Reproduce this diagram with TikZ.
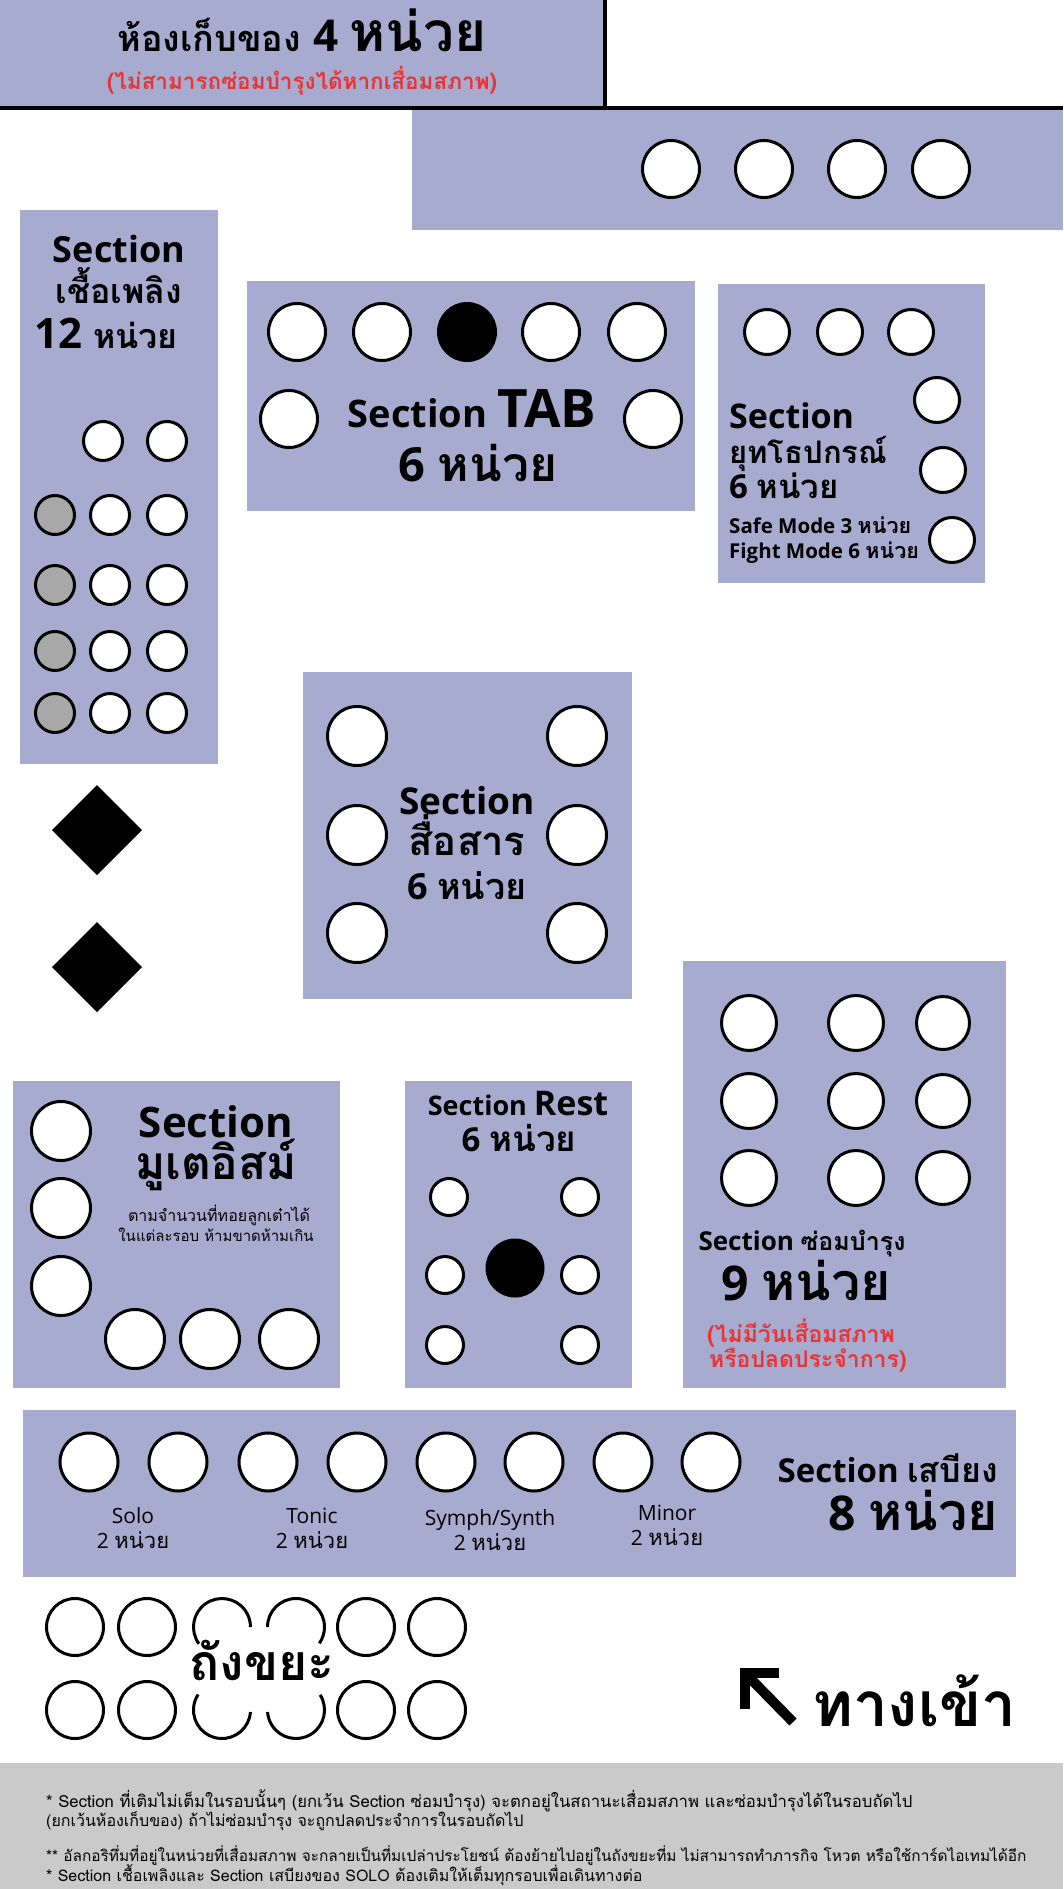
\documentclass[tikz,border=0pt]{standalone}
\usepackage{fontspec}
\setmainfont{Open Sans}
\newfontfamily\thai{Loma}[Script=Thai]
\usepackage{tikz}

\definecolor{zonefill}{RGB}{167,171,207}
\definecolor{deadgray}{RGB}{168,168,168}
\definecolor{notegray}{RGB}{202,202,202}
\definecolor{alertred}{RGB}{232,52,52}

\newcommand{\fsize}[1]{\fontsize{#1}{#1}\selectfont}
\newcommand{\latinb}[2]{{\bfseries\fsize{#1}#2}}
\newcommand{\thaib}[2]{{\thai\bfseries\fsize{#1}#2}}
\newcommand{\thair}[2]{{\thai\fsize{#1}#2}}

\begin{document}
\begin{tikzpicture}[x=1pt, y=-1pt,
                zone/.style={fill=zonefill},
                slot/.style={circle, draw, line width=3pt, fill=white, inner sep=0pt, minimum size=#1},
                dead/.style={fill=deadgray},
                locked/.style={fill=black},
                txt/.style={inner sep=0pt},
                binline/.style={line width=3pt}
            ]
                \useasboundingbox (0,0) rectangle (1063,1889);

                % Zones
                \fill[zone] (0,0) rectangle (605,108);
                \fill[zone] (412,108) rectangle (1063,230);
                \fill[zone] (20,210) rectangle (218,764);
                \fill[zone] (247,281) rectangle (695,511);
                \fill[zone] (718,284) rectangle (985,583);
                \fill[zone] (303,672) rectangle (632,999);
                \fill[zone] (13,1081) rectangle (340,1388);
                \fill[zone] (405,1081) rectangle (632,1388);
                \fill[zone] (683,961) rectangle (1006,1388);
                \fill[zone] (23,1410) rectangle (1016,1577);
                \fill[notegray] (0,1763) rectangle (1063,1889);

                \draw[line width=3.5pt] (0,108) -- (1063,108);
                \draw[line width=3.5pt] (605,0) -- (605,108);

                % Storage
                \node[txt, anchor=base] (storetitle) at (302,52) {\thaib{36}{ห้องเก็บของ }\latinb{44}{4 }\thaib{55}{หน่วย}};
                \node[txt, anchor=base, text=alertred] (storenote) at (302,90) {\thaib{22.5}{(ไม่สามารถซ่อมบำรุงได้หากเสื่อมสภาพ)}};
                \foreach \i/\x in {1/671, 2/764, 3/857, 4/941}
                    \node[slot=57] (store\i) at (\x,169) {};

                % Fuel
                \node[txt, anchor=base] (fuelname) at (119,262) {\latinb{36}{Section}};
                \node[txt, anchor=base] (fuelthai) at (119,303) {\thaib{34}{เชื้อเพลิง}};
                \node[txt, anchor=base] (fuelcount) at (106,348) {\latinb{42}{12 }\thaib{34}{หน่วย}};
                \foreach \col/\x in {2/103, 3/167}
                    \node[slot=39] (fuel1\col) at (\x,441) {};
                \foreach \row/\y in {2/515, 3/585, 4/651, 5/713} {
                    \node[slot=39, dead] (fuel\row1) at (55,\y) {};
                    \node[slot=39] (fuel\row2) at (110,\y) {};
                    \node[slot=39] (fuel\row3) at (167,\y) {};
                }
                \fill (97,785) -- ++(45,45) -- ++(-45,45) -- ++(-45,-45) -- cycle;
                \fill (97,922) -- ++(45,45) -- ++(-45,45) -- ++(-45,-45) -- cycle;

                % TAB
                \foreach \i/\x in {1/297, 2/382, 4/551, 5/637}
                    \node[slot=57] (tab\i) at (\x,332) {};
                \node[slot=57, locked] (tab3) at (467,332) {};
                \node[slot=57] (tab6) at (289,419) {};
                \node[slot=57] (tab7) at (653,419) {};
                \node[txt, anchor=base] (tabname) at (472,427) {\latinb{38}{Section }\latinb{53}{TAB}};
                \node[txt, anchor=base] (tabcount) at (478,481) {\latinb{47}{6 }\thaib{48}{หน่วย}};

                % Equipment
                \foreach \i/\x/\y in {1/767/332, 2/840/332, 3/911/332, 4/937/400, 5/943/470, 6/952/540}
                    \node[slot=45] (gear\i) at (\x,\y) {};
                \node[txt, anchor=base west] (gearname) at (729,428) {\latinb{34}{Section}};
                \node[txt, anchor=base west] (gearthai) at (729,463) {\thaib{31}{ยุทโธปกรณ์}};
                \node[txt, anchor=base west] (gearcount) at (729,498) {\latinb{33}{6 }\thaib{33}{หน่วย}};
                \node[txt, anchor=base west] (gearsafe) at (729,533) {\latinb{20.5}{Safe Mode 3 }\thaib{21.5}{หน่วย}};
                \node[txt, anchor=base west] (gearfight) at (729,558) {\latinb{20.5}{Fight Mode 6 }\thaib{21.5}{หน่วย}};

                % Communication
                \foreach \i/\x/\y in {1/357/736, 2/577/736, 3/357/835, 4/577/835, 5/357/933, 6/577/933}
                    \node[slot=59] (comm\i) at (\x,\y) {};
                \node[txt, anchor=base] (commname) at (467,814) {\latinb{37}{Section}};
                \node[txt, anchor=base] (commthai) at (467,855) {\thaib{40}{สื่อสาร}};
                \node[txt, anchor=base] (commcount) at (467,899) {\latinb{36}{6 }\thaib{36}{หน่วย}};

                % Muteism
                \foreach \i/\y in {1/1131, 2/1208, 3/1286}
                    \node[slot=59] (mute\i) at (61,\y) {};
                \foreach \i/\x in {4/135, 5/210, 6/289}
                    \node[slot=59] (mute\i) at (\x,1339) {};
                \node[txt, anchor=base] (mutename) at (216,1137) {\latinb{42}{Section}};
                \node[txt, anchor=base] (mutethai) at (216,1179) {\thaib{46}{มูเตอิสม์}};
                \node[txt, anchor=base] (muterule) at (219,1221) {\thair{16}{ตามจำนวนที่ทอยลูกเต๋าได้}};
                \node[txt, anchor=base] (mutelimit) at (216,1241) {\thair{15}{ในแต่ละรอบ ห้ามขาดห้ามเกิน}};

                % Rest
                \foreach \i/\x/\y in {1/449/1197, 2/580/1197, 3/445/1275, 4/580/1275, 5/445/1345, 6/580/1345}
                    \node[slot=37] (rest\i) at (\x,\y) {};
                \node[slot=56, locked] (restcore) at (515,1268) {};
                \node[txt, anchor=base] (restname) at (518,1115) {\latinb{27}{Section }\latinb{34}{Rest}};
                \node[txt, anchor=base] (restcount) at (519,1151) {\latinb{33}{6 }\thaib{35}{หน่วย}};

                % Repair
                \foreach \row/\y in {1/1023, 2/1101, 3/1178} {
                    \node[slot=55] (fix\row1) at (749,\y) {};
                    \node[slot=55] (fix\row2) at (856,\y) {};
                    \node[slot=53] (fix\row3) at (943,\y) {};
                }
                \node[txt, anchor=base] (fixname) at (802,1250) {\latinb{26}{Section }\thaib{25}{ซ่อมบำรุง}};
                \node[txt, anchor=base] (fixcount) at (806,1300) {\latinb{48}{9 }\thaib{52}{หน่วย}};
                \node[txt, anchor=base west, text=alertred] (fixnote1) at (707,1342) {\thaib{23}{(ไม่มีวันเสื่อมสภาพ}};
                \node[txt, anchor=base west, text=alertred] (fixnote2) at (709,1367) {\thaib{23}{หรือปลดประจำการ)}};

                % Supply
                \foreach \i/\x in {1/89, 2/178, 3/268, 4/357, 5/446, 6/534, 7/623, 8/711}
                    \node[slot=58] (food\i) at (\x,1462) {};
                \foreach \kind/\x/\y in {Solo/133/1523, Tonic/312/1523, Symph\slash Synth/490/1525, Minor/667/1520} {
                    \node[txt, anchor=base] (kind\x) at (\x,\y) {\fsize{21}\kind};
                    \node[txt, anchor=base] (kindcount\x) at (\x,\y+25) {\fsize{21}2 \thair{22}{หน่วย}};
                }
                \node[txt, anchor=base east] (foodname) at (998,1482) {\latinb{33}{Section }\thaib{34}{เสบียง}};
                \node[txt, anchor=base east] (foodcount) at (998,1530) {\latinb{48}{8 }\thaib{52}{หน่วย}};

                % Bin
                \foreach \i/\x in {1/75, 2/147, 5/366, 6/437} {
                    \node[slot=57, fill=none] (bin1\i) at (\x,1627) {};
                    \node[slot=57, fill=none] (bin2\i) at (\x,1710) {};
                }
                \draw[binline] (222,1627) ++(144:28.5) arc[start angle=144, end angle=360, radius=28.5];
                \draw[binline] (296,1627) ++(180:28.5) arc[start angle=180, end angle=395, radius=28.5];
                \draw[binline] (222,1710) ++(4:28.5) arc[start angle=4, end angle=213, radius=28.5];
                \draw[binline] (296,1710) ++(-32:28.5) arc[start angle=-32, end angle=176, radius=28.5];
                \node[txt, anchor=base] (binname) at (262,1680) {\thaib{50}{ถังขยะ}};

                % Entrance
                \coordinate (arrowtip) at (745,1673);
                \coordinate (arrowtail) at (793,1722);
                \draw[line width=10pt] (arrowtail) -- (arrowtip);
                \draw[line width=10pt] (arrowtip) ++(34,0) -- (arrowtip) -- ++(0,36);
                \node[txt, anchor=base west] (entrance) at (812,1726) {\thaib{62}{ทางเข้า}};

                % Notes
                \node[txt, anchor=base west] (note1) at (46,1807) {\thair{16.7}{* Section ที่เติมไม่เต็มในรอบนั้นๆ (ยกเว้น Section ซ่อมบำรุง) จะตกอยู่ในสถานะเสื่อมสภาพ และซ่อมบำรุงได้ในรอบถัดไป}};
                \node[txt, anchor=base west] (note2) at (46,1826) {\thair{16}{(ยกเว้นห้องเก็บของ) ถ้าไม่ซ่อมบำรุง จะถูกปลดประจำการในรอบถัดไป}};
                \node[txt, anchor=base west] (note3) at (46,1861) {\thair{15.4}{** อัลกอริทึ่มที่อยู่ในหน่วยที่เสื่อมสภาพ จะกลายเป็นที่มเปล่าประโยชน์ ต้องย้ายไปอยู่ในถังขยะที่ม ไม่สามารถทำภารกิจ โหวต หรือใช้การ์ดไอเทมได้อีก}};
                \node[txt, anchor=base west] (note4) at (46,1881) {\thair{16}{* Section เชื้อเพลิงและ Section เสบียงของ SOLO ต้องเติมให้เต็มทุกรอบเพื่อเดินทางต่อ}};
            \end{tikzpicture}
\end{document}
